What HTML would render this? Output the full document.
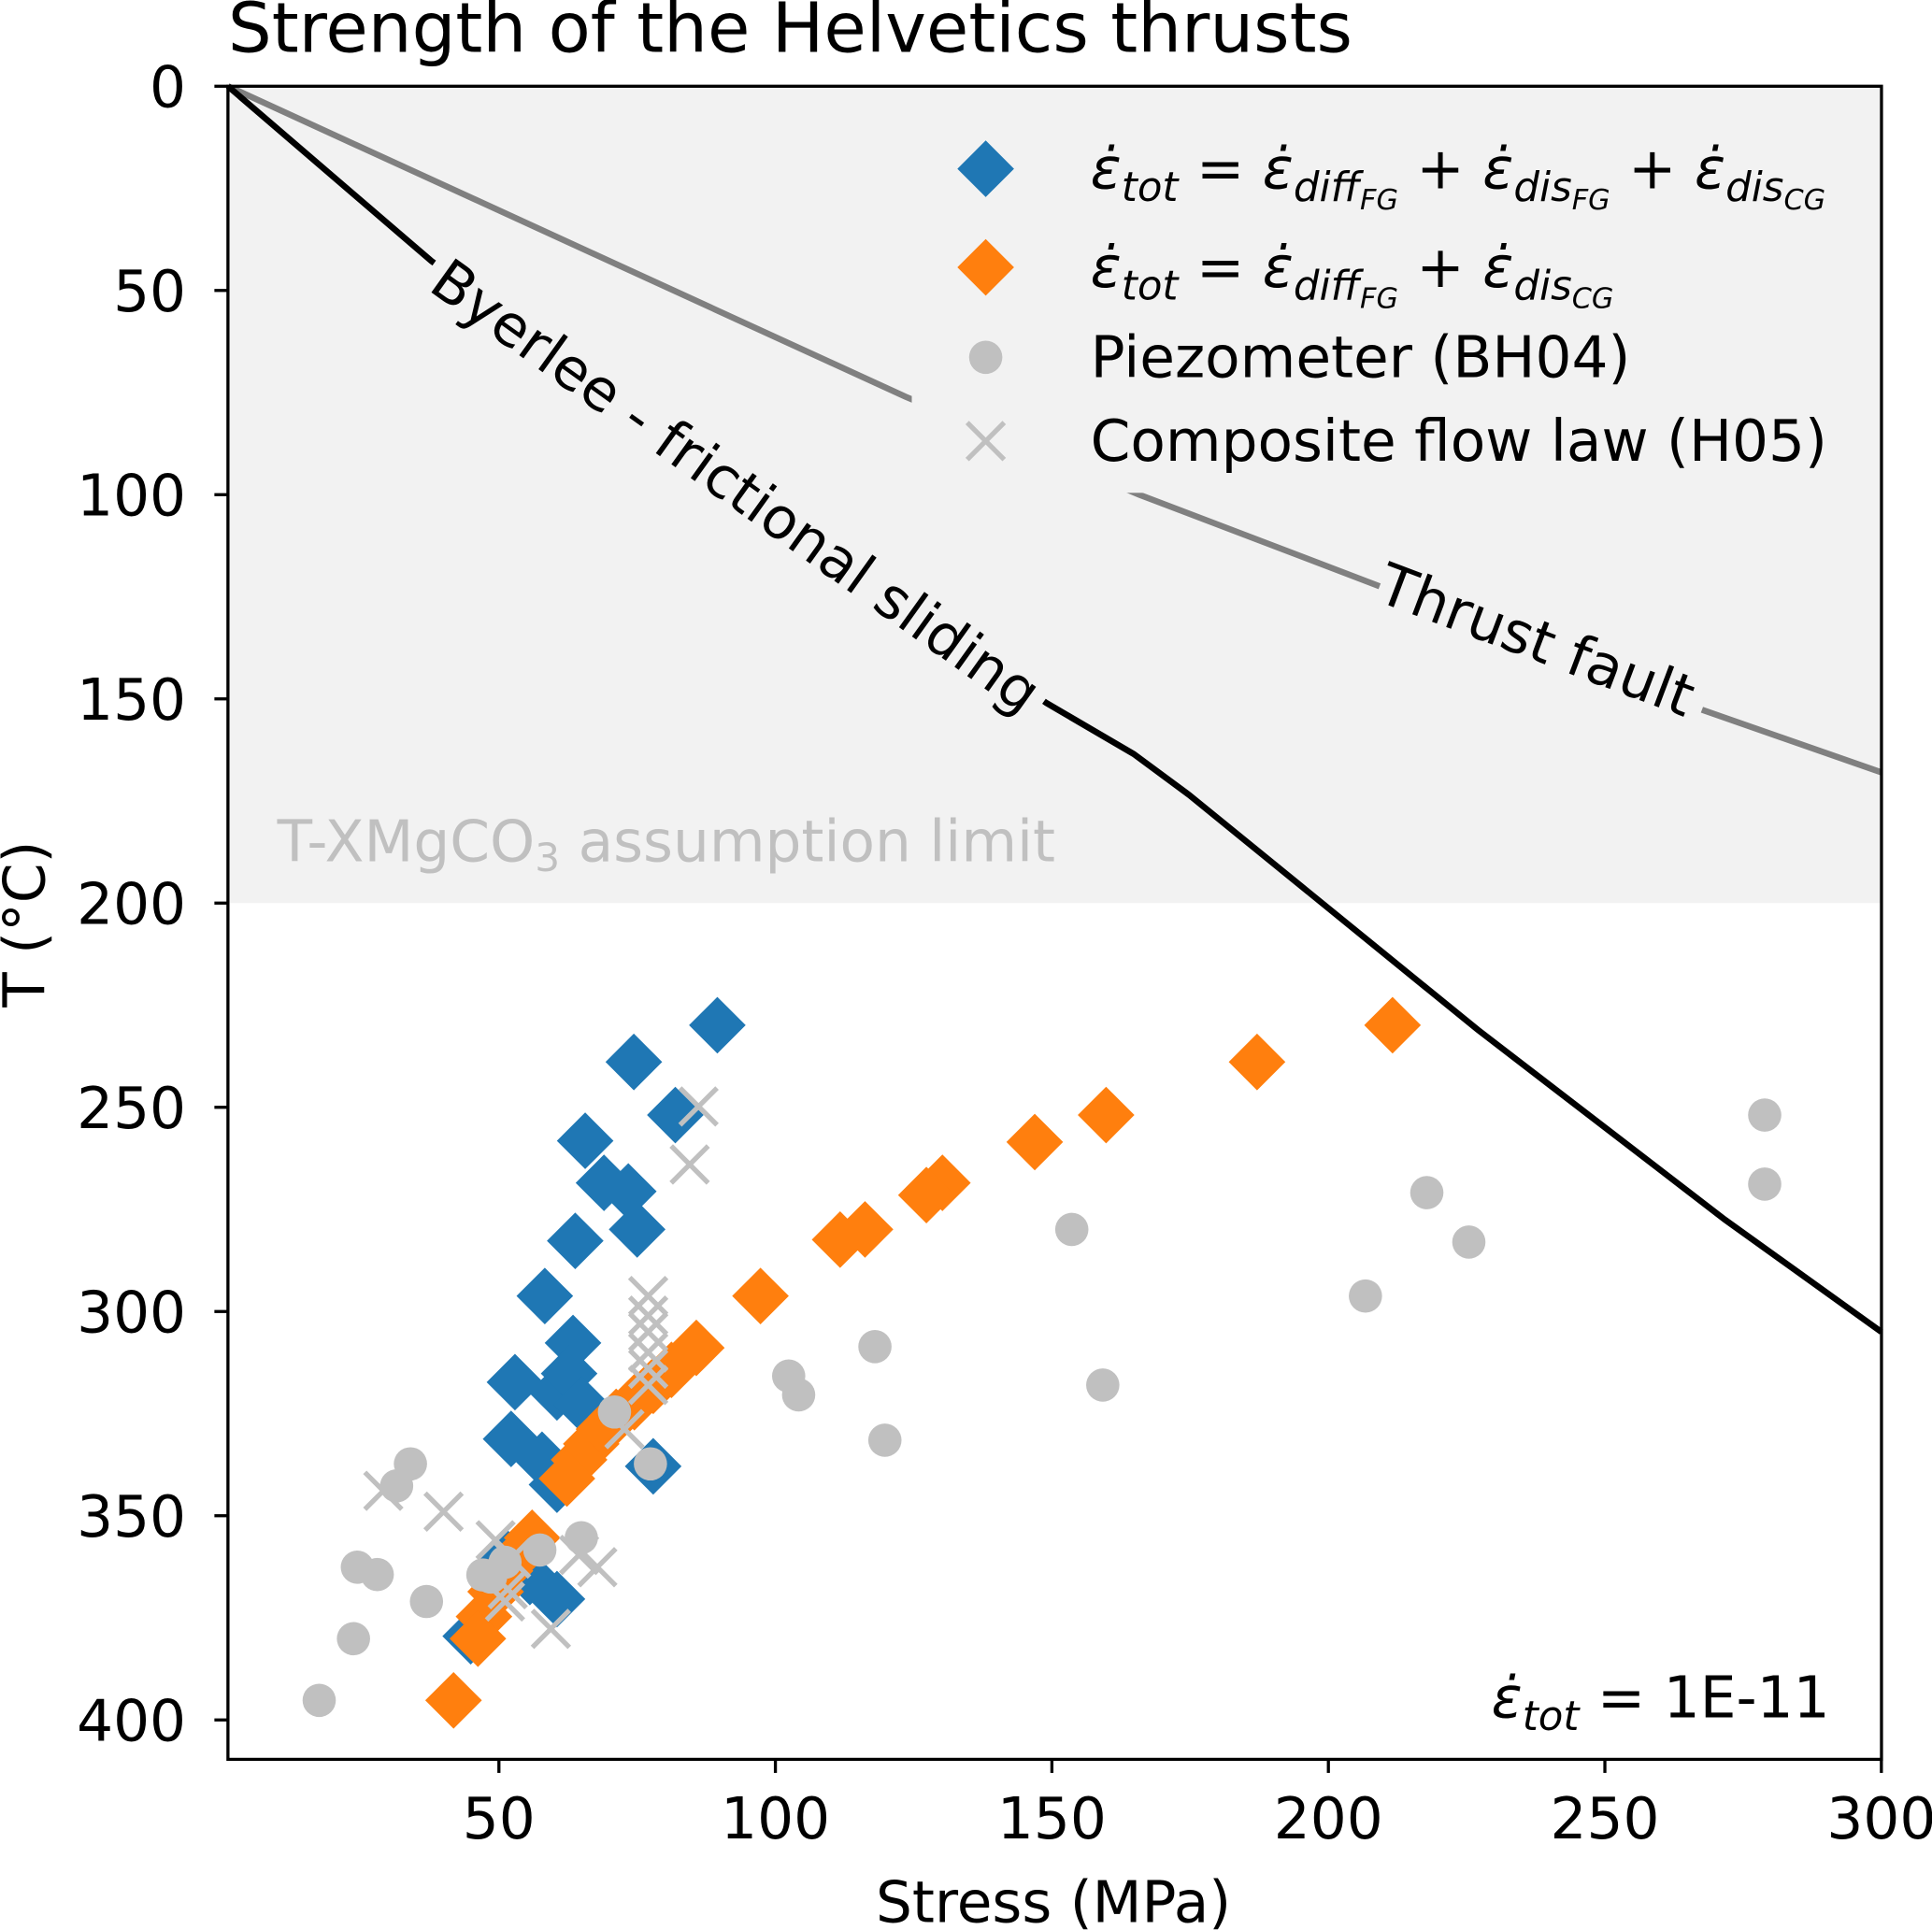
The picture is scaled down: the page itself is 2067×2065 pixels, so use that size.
<!DOCTYPE html>
<html><head><meta charset="utf-8"><style>
html,body{margin:0;padding:0;background:#fff}
svg{display:block;font-family:"DejaVu Sans","Liberation Sans",sans-serif}
</style></head><body>
<svg id="chart" width="2067" height="2065" viewBox="0 0 1568 1566.5" preserveAspectRatio="none" xmlns="http://www.w3.org/2000/svg">
<rect width="1568" height="1567" fill="#fff"/>
<g id="plot"></g>
</svg>
<script>
const xTicks=[50,100,150,200,250,300];
const yTicks=[0,50,100,150,200,250,300,350,400];
const byerleeS=[1,37.8,149,164.8,174.8,227,271.7,300];
const byerleeT=[0,42.8,151,163.5,173.5,231,277.5,305];
const thrustS=[1,123.5,165.8,206.5,267,300];
const thrustT=[0,76,100,121,152.4,168];
const blueS=[89.5,74.4,81.9,65.6,69.0,73.4,75.0,63.8,58.3,63.4,52.9,60.5,62.7,65.0,52.2,57.8,60.5,77.9,51.6,55.6,60.5,44.9];
const blueT=[229.9,238.9,251.9,258.2,268.5,270.6,279.9,282.7,296.2,307.7,317.3,319.8,315.2,322.8,331.2,336.3,342.4,337.9,360.5,365.0,370.4,379.5];
const orangeS=[211.6,187.1,159.8,146.9,130.2,127.3,111.7,116.2,97.3,85.7,81.2,77.9,74.5,71.2,69,66.7,64.5,62.3,56.0,54.5,51.1,49.4,47.3,46.2,41.8];
const orangeT=[229.9,238.9,251.9,258.5,268.5,271.5,282.4,279.9,296.2,308.9,314.3,318.2,322.2,325.8,328.8,332.4,336.3,340.9,355.4,358.4,363.5,368.6,374.7,380.1,395.2];
const piezoS=[278.9,278.9,217.8,225.4,153.6,206.7,118.0,102.4,104.2,159.2,119.8,70.9,77.4,34.0,31.5,64.9,57.4,51.1,48.5,47.1,24.4,28.0,36.9,23.7,17.5];
const piezoT=[251.9,268.8,270.9,283.0,279.9,296.2,308.6,315.8,320.4,318.0,331.5,324.6,337.3,337.3,342.7,355.4,358.4,361.4,365.0,364.5,362.6,364.4,371.0,380.1,395.2];
const compS=[86.1,84.5,77.0,77,77,77,77,77,72.7,29.1,40.0,49.4,52.2,51.6,51.1,64.5,67.8,59.4];
const compT=[249.8,264.0,296.2,301,305,310,314,318,328.8,343.9,349.0,356.0,360.5,368.0,371.0,359.6,362.6,377.7];

const L=185,R=1527,T=70,B=1428;
const FS=46.5;
const X=v=>L+(v-1)*4.488;
const Y=v=>T+v*3.315;
const NS="http://www.w3.org/2000/svg";
const g=document.getElementById('plot');
function mk(tag,attrs,parent){const e=document.createElementNS(NS,tag);for(const k in attrs)e.setAttribute(k,attrs[k]);(parent||g).appendChild(e);return e;}

let e;
e=mk('rect',{x:L,y:T,width:R-L,height:Y(200)-T,fill:'#f2f2f2'});


e=mk('text',{x:225,y:699,'font-size':FS,fill:'#c0c0c0'});
e.innerHTML='T-XMgCO<tspan font-size="32" dy="8">3</tspan><tspan dy="-8"> assumption limit</tspan>';



function line(xs,ys,col,name){let d='';xs.forEach((v,i)=>{d+=(i?'L':'M')+X(v)+' '+Y(ys[i]);});
const p=mk('path',{d:d,fill:'none',stroke:col,'stroke-width':5});

}
line(thrustS,thrustT,'#808080','thrust-fault-line');
line(byerleeS,byerleeT,'#000','byerlee-line');

e=mk('text',{x:0,y:0,'font-size':FS,'text-anchor':'middle','dominant-baseline':'central',fill:'#000',stroke:'#f2f2f2','stroke-width':24,'paint-order':'stroke',transform:'translate(597,395) rotate(35.6)'});
e.textContent='Byerlee - frictional sliding';


e=mk('text',{x:0,y:0,'font-size':FS,'text-anchor':'middle','dominant-baseline':'central',fill:'#000',stroke:'#f2f2f2','stroke-width':24,'paint-order':'stroke',transform:'translate(1247,520) rotate(20.7)'});
e.textContent='Thrust fault';



// legend box (hides lines beneath)
e=mk('rect',{x:740,y:92,width:770,height:308,fill:'#f2f2f2'});



function diamond(cx,cy,col,name){const h=23;const p=mk('path',{d:`M${cx} ${cy-h}L${cx+h} ${cy}L${cx} ${cy+h}L${cx-h} ${cy}Z`,fill:col});

}
function circ(cx,cy,name){const c=mk('circle',{cx:cx,cy:cy,r:13.5,fill:'#c0c0c0'});

}
function cross(cx,cy,name){const h=15;const p=mk('path',{d:`M${cx-h} ${cy-h}L${cx+h} ${cy+h}M${cx-h} ${cy+h}L${cx+h} ${cy-h}`,stroke:'#c0c0c0','stroke-width':4,fill:'none'});

}

blueS.forEach((v,i)=>diamond(X(v),Y(blueT[i]),'#1f77b4','blue-point'));
orangeS.forEach((v,i)=>diamond(X(v),Y(orangeT[i]),'#ff7f0e','orange-point'));
piezoS.forEach((v,i)=>circ(X(v),Y(piezoT[i]),'piezometer-point'));
compS.forEach((v,i)=>cross(X(v),Y(compT[i]),'composite-point'));

e=mk('rect',{x:L,y:T,width:R-L,height:B-T,fill:'none',stroke:'#000','stroke-width':2.5});


xTicks.forEach(v=>{const x=X(v);
e=mk('line',{x1:x,y1:B,x2:x,y2:B+11,stroke:'#000','stroke-width':2.5});


e=mk('text',{x:x,y:B+64,'font-size':FS,'text-anchor':'middle'});e.textContent=v;

});
yTicks.forEach(v=>{const y=Y(v);
e=mk('line',{x1:L-11,y1:y,x2:L,y2:y,stroke:'#000','stroke-width':2.5});


e=mk('text',{x:L-34,y:y+17,'font-size':FS,'text-anchor':'end'});e.textContent=v;

});

e=mk('text',{x:855,y:1560,'font-size':FS,'text-anchor':'middle'});e.textContent='Stress (MPa)';


e=mk('text',{x:0,y:0,'font-size':FS,'text-anchor':'middle',transform:'translate(36,750) rotate(-90)'});e.textContent='T (°C)';


e=mk('text',{x:185,y:42,'font-size':56});e.textContent='Strength of the Helvetics thrusts';



const eps='<tspan font-style="italic">ε̇</tspan>';
function sub(t){return `<tspan font-style="italic" font-size="33" dy="10">${t}</tspan><tspan dy="-10"> </tspan>`;}
function sub2(t,s){return `<tspan font-style="italic" font-size="33" dy="10">${t}</tspan><tspan font-style="italic" font-size="23" dy="7">${s}</tspan><tspan dy="-17"> </tspan>`;}
diamond(800,137,'#1f77b4','legend-blue-marker');
e=mk('text',{x:885,y:153,'font-size':FS});
e.innerHTML=eps+sub('tot')+'= '+eps+sub2('diff','FG')+'+ '+eps+sub2('dis','FG')+'+ '+eps+sub2('dis','CG');


diamond(800,217,'#ff7f0e','legend-orange-marker');
e=mk('text',{x:885,y:233,'font-size':FS});
e.innerHTML=eps+sub('tot')+'= '+eps+sub2('diff','FG')+'+ '+eps+sub2('dis','CG');


circ(800,290,'legend-piezometer-marker');
e=mk('text',{x:885,y:306,'font-size':FS});e.textContent='Piezometer (BH04)';


cross(800,358,'legend-composite-marker');
e=mk('text',{x:885,y:374,'font-size':FS});e.textContent='Composite flow law (H05)';



e=mk('text',{x:1485,y:1394,'font-size':FS,'text-anchor':'end'});
e.innerHTML=eps+sub('tot')+'= 1E-11';


</script>
</body></html>
